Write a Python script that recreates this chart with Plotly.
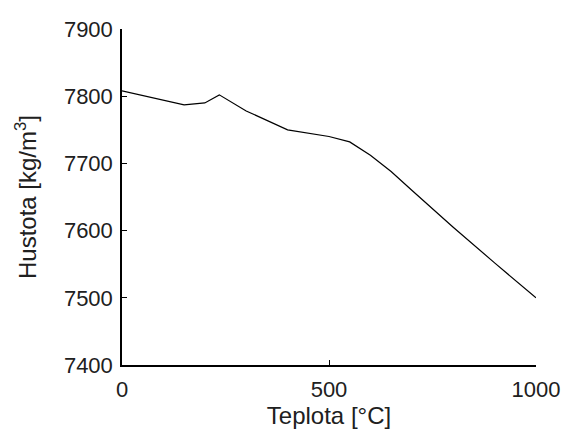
import plotly.graph_objects as go

# Density of steel as a function of temperature
teplota = [0, 50, 100, 150, 200, 235, 300, 400, 500, 550, 600, 650, 700, 800, 900, 1000]
hustota = [7808, 7801, 7794, 7787, 7790, 7802, 7778, 7750, 7740, 7732, 7712, 7688, 7660, 7605, 7552, 7500]

x_ticks = [0, 500, 1000]
y_ticks = [7400, 7500, 7600, 7700, 7800, 7900]

tick_font = dict(family="Liberation Sans, Arial, sans-serif", size=22, color="#202020")
title_font = dict(family="Liberation Sans, Arial, sans-serif", size=24, color="#202020")

fig = go.Figure(
    go.Scatter(x=teplota, y=hustota, mode="lines",
               line=dict(color="black", width=1.2), showlegend=False)
)

axis_common = dict(
    showgrid=False, zeroline=False, showline=True, linecolor="black",
    linewidth=1.5, ticks="inside", ticklen=5, tickcolor="black", tickwidth=1.2,
    tickfont=tick_font, mirror=False,
)

fig.update_xaxes(range=[0, 1000], tickvals=x_ticks,
                 ticklabelstandoff=4,
                 title=dict(text="Teplota [°C]", font=title_font, standoff=4),
                 **axis_common)
fig.update_yaxes(range=[7400, 7900], tickvals=y_ticks,
                 ticklabelstandoff=3,
                 title=dict(text="Hustota [kg/m<sup>3</sup>]", font=title_font, standoff=20),
                 **axis_common)

fig.update_layout(
    width=565, height=437,
    margin=dict(l=122, r=29, t=29, b=72, autoexpand=False),
    paper_bgcolor="white", plot_bgcolor="white",
)

fig.write_html("out.html")
